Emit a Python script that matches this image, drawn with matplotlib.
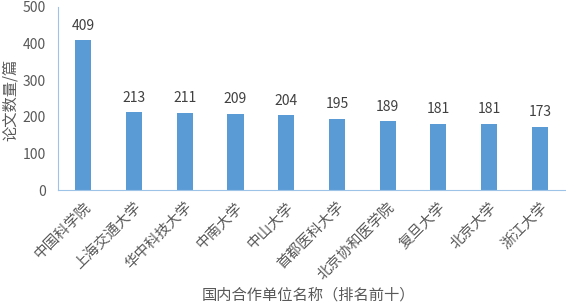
import matplotlib.pyplot as plt

plt.rcParams['font.family'] = ['Noto Sans CJK SC', 'DejaVu Sans']

units = ["中国科学院", "上海交通大学", "华中科技大学", "中南大学", "中山大学",
         "首都医科大学", "北京协和医学院", "复旦大学", "北京大学", "浙江大学"]
papers = [409, 213, 211, 209, 204, 195, 189, 181, 181, 173]

text_color = "#595959"
axis_color = "#9DC3E6"

fig = plt.figure(figsize=(5.66, 3.04), dpi=100)
ax = fig.add_axes([0.1025, 0.375, 0.896, 0.602])

x = range(len(units))
bars = ax.bar(x, papers, width=0.32, color="#5B9BD5")
for b, v in zip(bars, papers):
    ax.text(b.get_x() + b.get_width() / 2, v + 20, str(v), ha="center", va="bottom",
            fontsize=10, color="#404040")

ax.set_xlim(-0.5, len(units) - 0.5)
ax.set_ylim(0, 500)
ax.set_yticks(range(0, 501, 100))
ax.set_xticks(list(x))
ax.set_xticklabels(units, rotation=45, ha="right", va="top", rotation_mode="anchor",
                   fontsize=10.5, color=text_color)
ax.tick_params(axis="x", length=0, pad=7)
ax.tick_params(axis="y", length=0, labelsize=10, labelcolor=text_color, pad=9)

for s in ["top", "right"]:
    ax.spines[s].set_visible(False)
ax.spines["left"].set_color(axis_color)
ax.spines["bottom"].set_color(axis_color)

fig.text(0.018, 0.67, "论文数量/篇", rotation=90, ha="center", va="center",
         fontsize=11, color=text_color)
fig.text(0.545, 0.03, "国内合作单位名称（排名前十）", ha="center", va="center",
         fontsize=11, color=text_color)

fig.savefig("out.png", dpi=100)
